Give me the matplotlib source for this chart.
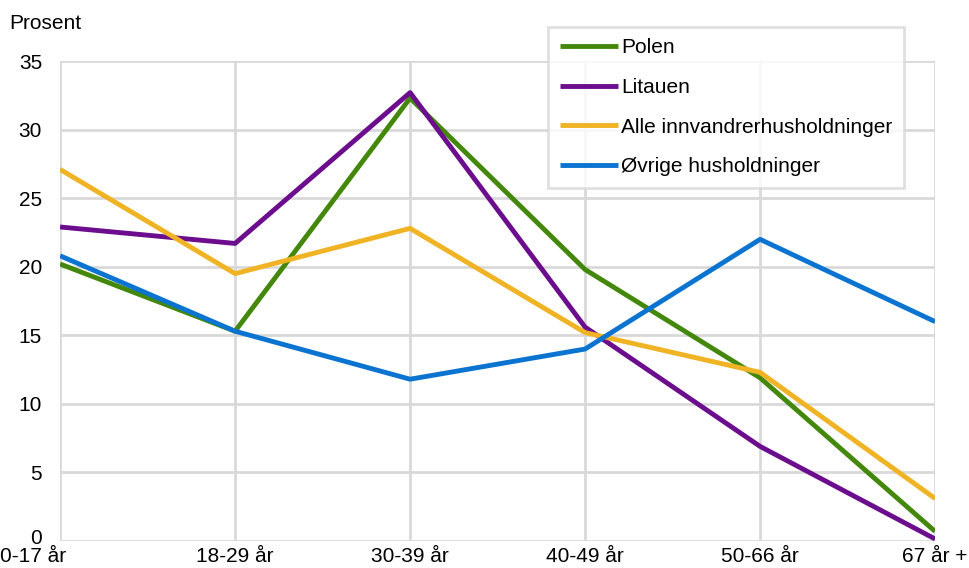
import matplotlib
matplotlib.use("Agg")
import matplotlib.pyplot as plt
from matplotlib.transforms import ScaledTranslation

plt.rcParams["font.family"] = ["Liberation Sans", "DejaVu Sans"]

categories = ["0-17 år", "18-29 år", "30-39 år", "40-49 år", "50-66 år", "67 år +"]
polen = [20.2, 15.3, 32.3, 19.8, 11.9, 0.7]
litauen = [22.9, 21.7, 32.7, 15.6, 6.9, 0.15]
alle = [27.1, 19.5, 22.8, 15.2, 12.3, 3.1]
ovrige = [20.8, 15.3, 11.8, 14.0, 22.0, 16.0]

series = [
    ("Polen", polen, "#43880b"),
    ("Litauen", litauen, "#6b0d8c"),
    ("Alle innvandrerhusholdninger", alle, "#efb323"),
    ("Øvrige husholdninger", ovrige, "#0b74d1"),
]

FS = 15

fig = plt.figure(figsize=(9.69, 5.68), dpi=100)
ax = fig.add_axes([0.062, 0.0475, 0.903, 0.845])

x = range(len(categories))
for name, vals, col in series:
    ax.plot(x, vals, color=col, lw=3.5, label=name, solid_capstyle="butt")

ax.set_xlim(0, len(categories) - 1)
ax.set_ylim(0, 35)
ax.set_yticks(range(0, 36, 5))
ax.set_xticks(list(x))
ax.set_xticklabels(categories)
ax.grid(True, color="#d9d9d9", lw=2)
ax.set_axisbelow(True)
for s in ax.spines.values():
    s.set_visible(False)
ax.tick_params(length=0, labelsize=FS, colors="black")
ax.tick_params(axis="y", pad=13)
ax.tick_params(axis="x", pad=4)
first = ax.get_xticklabels()[0]
first.set_horizontalalignment("right")
first.set_transform(first.get_transform() + ScaledTranslation(0.06, 0, fig.dpi_scale_trans))
# nudge the "0" tick label up so it clears the first category label
zero = ax.get_yticklabels()[0]
zero.set_transform(zero.get_transform() + ScaledTranslation(0, 0.05, fig.dpi_scale_trans))

fig.text(0.010, 0.958, "Prosent", fontsize=FS, va="center", ha="left")

leg = ax.legend(loc="upper left", bbox_to_anchor=(0.558, 1.072), fontsize=FS,
                frameon=True, fancybox=False, edgecolor="#d9d9d9",
                handlelength=2.8, handletextpad=0.15, labelspacing=1.0,
                borderpad=0.55, borderaxespad=0)
leg.get_frame().set_linewidth(2)

fig.savefig("out.png", dpi=100)
